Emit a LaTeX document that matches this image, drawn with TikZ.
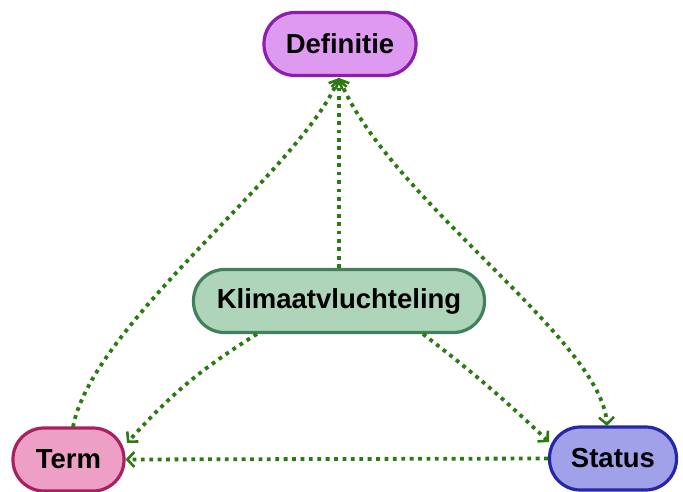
\documentclass[tikz,border=0pt]{standalone}
\usepackage{fontspec}
\setmainfont{Liberation Sans}
\usetikzlibrary{arrows.meta}
\definecolor{edgegreen}{HTML}{2B7A12}
\definecolor{defFill}{HTML}{DE9AF0}
\definecolor{defLine}{HTML}{8C1DB0}
\definecolor{kliFill}{HTML}{AED5B9}
\definecolor{kliLine}{HTML}{42805A}
\definecolor{termFill}{HTML}{EE9FC5}
\definecolor{termLine}{HTML}{A8205F}
\definecolor{statFill}{HTML}{A0A1E9}
\definecolor{statLine}{HTML}{2626A8}
\tikzset{
  pill/.style={draw, line width=3.2pt, rounded corners=31pt, minimum height=63pt,
    inner sep=0pt, font=\fontsize{27.5}{30}\selectfont\bfseries, text=black},
  tip/.style={Straight Barb[length=7pt,width=15pt,line width=2.6pt]},
  link/.style={draw=edgegreen, line width=3.8pt, dash pattern=on 3.8pt off 4.6pt,
    -{Straight Barb[length=7pt,width=15pt,line width=2.6pt]}},
  both/.style={link, {Straight Barb[length=7pt,width=15pt,line width=2.6pt]}-{Straight Barb[length=7pt,width=15pt,line width=2.6pt]}}
}
\begin{document}
\begin{tikzpicture}[x=1pt,y=-1pt]
\useasboundingbox (0,0) rectangle (683,492);
\node[pill, fill=defFill, draw=defLine, minimum width=152pt] (def) at (340,44) {Definitie};
\node[pill, fill=kliFill, draw=kliLine, minimum width=291pt] (kli) at (339,301) {Klimaatvluchteling};
\node[pill, fill=termFill, draw=termLine, minimum width=111pt] (term) at (68.5,459.5) {Term};
\node[pill, fill=statFill, draw=statLine, minimum width=127pt] (stat) at (613,458.5) {Status};
\coordinate (defS) at (339,78);
\coordinate (termN) at (73,427);
\coordinate (statN) at (607,426);
\draw[link] (termN) .. controls (92,325) and (300,170) .. (defS);
\draw[link] (kli.north) -- (defS);
\draw[both] (defS) .. controls (390,200) and (602,340) .. (statN);
\draw[link] (257,334) to[bend right=8] (127,443);
\draw[link] (423,334) to[bend left=3] (549,442);
\draw[link] (stat.west) -- (term.east);
\end{tikzpicture}
\end{document}
